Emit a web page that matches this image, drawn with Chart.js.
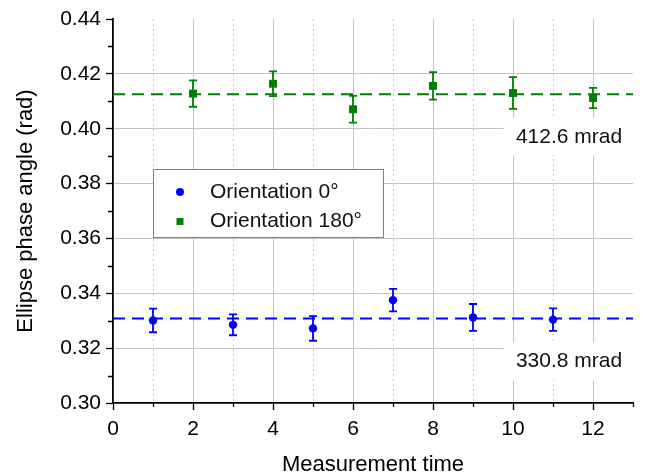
<!DOCTYPE html>
<html lang="en">
<head>
<meta charset="UTF-8">
<title>Ellipse phase angle vs measurement time</title>
<style>
    body { margin: 0; padding: 0; background: #fff; }
    #chartContainer { width: 646px; height: 474px; }
</style>
<script src="https://cdn.jsdelivr.net/npm/chart.js"></script>
</head>
<body>
<div id="chartContainer"><canvas id="phaseChart" width="646" height="474"></canvas></div>
<script>
// measurements, orientation 0 deg (odd times) and 180 deg (even times)
const times0 = [1, 3, 5, 7, 9, 11];
const angles0 = [0.3301, 0.3285, 0.3272, 0.3375, 0.3312, 0.3304];
const errors0 = [0.0043, 0.0038, 0.0045, 0.0041, 0.0049, 0.0041];

const times180 = [2, 4, 6, 8, 10, 12];
const angles180 = [0.4128, 0.4164, 0.4071, 0.4156, 0.4130, 0.4112];
const errors180 = [0.0048, 0.0045, 0.0049, 0.0050, 0.0058, 0.0037];

const means = [0.3308, 0.4126];
const meanLabels = ['330.8 mrad', '412.6 mrad'];
const seriesLabels = ['Orientation 0°', 'Orientation 180°'];
const xRange = [0, 13];
const yRange = [0.30, 0.44];

const FONT = '"Liberation Sans", Arial, sans-serif';
const BLUE = '#0000ff';
const GREEN = '#008000';

const isMajorX = v => v % 2 === 0;
const isMajorY = v => Math.round(v * 100) % 2 === 0;

// error bars drawn through the scales
const errorBars = {
    id: 'errorBars',
    afterDatasetsDraw(chart) {
        const { ctx, scales: { x, y } } = chart;
        chart.data.datasets.forEach(ds => {
            if (!ds.errors) return;
            ctx.save();
            ctx.strokeStyle = ds.borderColor;
            ctx.lineWidth = 1.8;
            ds.data.forEach((p, i) => {
                const px = x.getPixelForValue(p.x);
                const top = y.getPixelForValue(p.y + ds.errors[i]);
                const bot = y.getPixelForValue(p.y - ds.errors[i]);
                ctx.beginPath();
                ctx.moveTo(px, top); ctx.lineTo(px, bot);
                ctx.moveTo(px - 4, top); ctx.lineTo(px + 4, top);
                ctx.moveTo(px - 4, bot); ctx.lineTo(px + 4, bot);
                ctx.stroke();
            });
            ctx.restore();
        });
    }
};

// "xxx.x mrad" boxes under each mean line
const meanText = {
    id: 'meanText',
    beforeDatasetsDraw(chart) {
        const { ctx, scales: { x, y }, chartArea } = chart;
        ctx.save();
        ctx.font = '21px ' + FONT;
        means.forEach((m, i) => {
            const ly = y.getPixelForValue(m) + 43;
            const cx = x.getPixelForValue(11.4);
            const w = ctx.measureText(meanLabels[i]).width;
            const bx = cx - w / 2 - 12;
            ctx.fillStyle = '#fff';
            ctx.fillRect(bx, ly - 19, chartArea.right - bx, 37);
            ctx.fillStyle = '#111';
            ctx.textAlign = 'center';
            ctx.textBaseline = 'middle';
            ctx.fillText(meanLabels[i], cx, ly);
        });
        ctx.restore();
    }
};

// boxed legend inside the plot
const boxLegend = {
    id: 'boxLegend',
    afterDatasetsDraw(chart) {
        const { ctx, chartArea } = chart;
        const bx = chartArea.left + 40, by = chartArea.top + 150;
        const bw = 230, bh = 68;
        ctx.save();
        ctx.fillStyle = '#fff';
        ctx.fillRect(bx, by, bw, bh);
        ctx.strokeStyle = '#808080';
        ctx.lineWidth = 1;
        ctx.strokeRect(bx + 0.5, by + 0.5, bw, bh);
        const items = chart.data.datasets.filter(ds => ds.errors);
        items.forEach((ds, i) => {
            const ry = by + 23 + i * 29.5;
            const mx = bx + 27;
            ctx.fillStyle = ds.backgroundColor;
            if (ds.pointStyle === 'rect') {
                ctx.fillRect(mx - 3.5, ry - 3.5, 7, 7);
            } else {
                ctx.beginPath();
                ctx.arc(mx, ry, 4, 0, Math.PI * 2);
                ctx.fill();
            }
            ctx.fillStyle = '#111';
            ctx.font = '21px ' + FONT;
            ctx.textAlign = 'left';
            ctx.textBaseline = 'middle';
            ctx.fillText(ds.label, bx + 57, ry);
        });
        ctx.restore();
    }
};

// short minor ticks
const minorTicks = {
    id: 'minorTicks',
    afterDraw(chart) {
        const { ctx, scales: { x, y } } = chart;
        ctx.save();
        ctx.strokeStyle = '#000';
        ctx.lineWidth = 1.3;
        ctx.beginPath();
        x.ticks.forEach(t => {
            if (isMajorX(t.value)) return;
            const px = Math.round(x.getPixelForValue(t.value)) + 0.5;
            ctx.moveTo(px, y.bottom); ctx.lineTo(px, y.bottom + 4);
        });
        y.ticks.forEach(t => {
            if (isMajorY(t.value)) return;
            const py = Math.round(y.getPixelForValue(t.value)) + 0.5;
            ctx.moveTo(x.left, py); ctx.lineTo(x.left - 5, py);
        });
        ctx.stroke();
        ctx.restore();
    }
};

const ctx = document.getElementById('phaseChart').getContext('2d');
new Chart(ctx, {
    type: 'scatter',
    data: {
        datasets: [
            {
                label: seriesLabels[0],
                data: times0.map((t, i) => ({ x: t, y: angles0[i] })),
                errors: errors0,
                pointStyle: 'circle',
                pointRadius: 4.2,
                borderColor: BLUE,
                backgroundColor: BLUE,
                borderWidth: 0
            },
            {
                label: seriesLabels[1],
                data: times180.map((t, i) => ({ x: t, y: angles180[i] })),
                errors: errors180,
                pointStyle: 'rect',
                pointRadius: 5.6,
                borderColor: GREEN,
                backgroundColor: GREEN,
                borderWidth: 0
            },
            {
                type: 'line',
                data: xRange.map(v => ({ x: v, y: means[0] })),
                borderColor: BLUE,
                borderWidth: 2,
                borderDash: [12, 7],
                pointRadius: 0
            },
            {
                type: 'line',
                data: xRange.map(v => ({ x: v, y: means[1] })),
                borderColor: GREEN,
                borderWidth: 2,
                borderDash: [12, 7],
                pointRadius: 0
            }
        ]
    },
    options: {
        responsive: false,
        animation: false,
        layout: { padding: { top: 19, right: 13, left: 0, bottom: 0 } },
        plugins: {
            legend: { display: false },
            tooltip: { enabled: false }
        },
        scales: {
            x: {
                type: 'linear',
                min: xRange[0],
                max: xRange[1],
                afterFit: s => { s.height = 71; },
                ticks: {
                    stepSize: 1,
                    autoSkip: false,
                    maxRotation: 0,
                    padding: 7,
                    color: '#000',
                    font: { family: FONT, size: 21 },
                    callback: v => isMajorX(v) ? String(v) : ''
                },
                grid: {
                    tickLength: 7,
                    lineWidth: 1,
                    color: c => (c.tick && (c.tick.value === xRange[0] || c.tick.value === xRange[1])) ? 'rgba(0,0,0,0)'
                        : (c.tick && isMajorX(c.tick.value) ? '#c4c4c4' : '#c8c8c8'),
                    tickColor: c => (c.tick && isMajorX(c.tick.value)) ? '#000' : 'rgba(0,0,0,0)',
                    tickWidth: 1.3
                },
                border: {
                    color: '#000',
                    width: 1.8,
                    dash: c => (c.tick && !isMajorX(c.tick.value)) ? [2, 3] : []
                },
                title: {
                    display: true,
                    text: 'Measurement time',
                    color: '#000',
                    font: { family: FONT, size: 22 },
                    padding: { top: 6, bottom: -4 }
                }
            },
            y: {
                min: yRange[0],
                max: yRange[1],
                afterFit: s => { s.width = 113; },
                ticks: {
                    stepSize: 0.01,
                    autoSkip: false,
                    padding: 5,
                    color: '#000',
                    font: { family: FONT, size: 21 },
                    callback: v => isMajorY(v) ? v.toFixed(2) : ''
                },
                grid: {
                    tickLength: 7,
                    lineWidth: 1,
                    color: c => {
                        if (!c.tick) return 'rgba(0,0,0,0)';
                        const v = Math.round(c.tick.value * 100);
                        if (v === 30 || v === 44 || v % 2 !== 0) return 'rgba(0,0,0,0)';
                        return '#c4c4c4';
                    },
                    tickColor: c => (c.tick && isMajorY(c.tick.value)) ? '#000' : 'rgba(0,0,0,0)',
                    tickWidth: 1.3
                },
                border: { color: '#000', width: 1.8 },
                title: {
                    display: true,
                    text: 'Ellipse phase angle (rad)',
                    color: '#000',
                    font: { family: FONT, size: 22 },
                    padding: { top: 13, bottom: 0 }
                }
            }
        }
    },
    plugins: [meanText, errorBars, boxLegend, minorTicks]
});
</script>
</body>
</html>
